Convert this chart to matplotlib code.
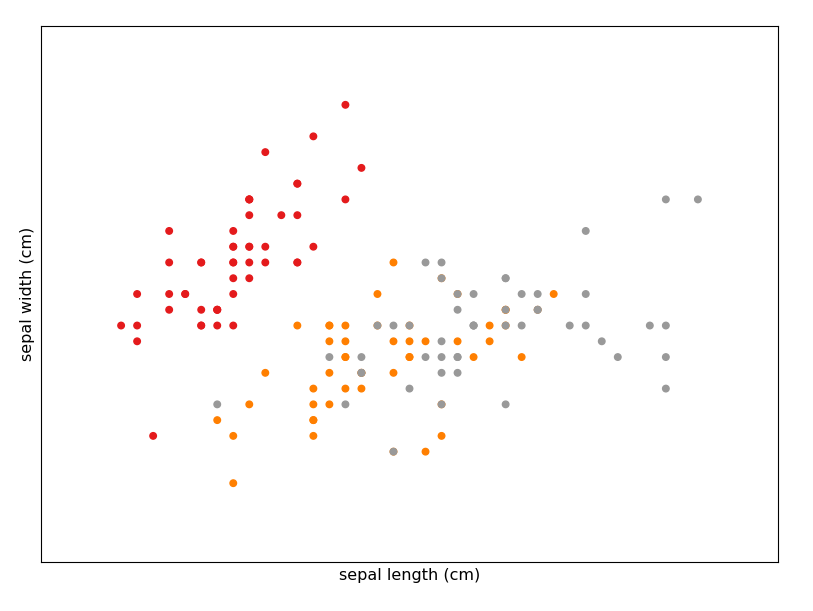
import matplotlib
matplotlib.use("Agg")
import matplotlib.pyplot as plt
import numpy as np

# iris: sepal length / sepal width per class
setosa_len = [5.1,4.9,4.7,4.6,5.0,5.4,4.6,5.0,4.4,4.9,5.4,4.8,4.8,4.3,5.8,5.7,5.4,5.1,5.7,5.1,5.4,5.1,4.6,5.1,4.8,5.0,5.0,5.2,5.2,4.7,4.8,5.4,5.2,5.5,4.9,5.0,5.5,4.9,4.4,5.1,5.0,4.5,4.4,5.0,5.1,4.8,5.1,4.6,5.3,5.0]
setosa_wid = [3.5,3.0,3.2,3.1,3.6,3.9,3.4,3.4,2.9,3.1,3.7,3.4,3.0,3.0,4.0,4.4,3.9,3.5,3.8,3.8,3.4,3.7,3.6,3.3,3.4,3.0,3.4,3.5,3.4,3.2,3.1,3.4,4.1,4.2,3.1,3.2,3.5,3.1,3.0,3.4,3.5,2.3,3.2,3.5,3.8,3.0,3.8,3.2,3.7,3.3]
versi_len = [7.0,6.4,6.9,5.5,6.5,5.7,6.3,4.9,6.6,5.2,5.0,5.9,6.0,6.1,5.6,6.7,5.6,5.8,6.2,5.6,5.9,6.1,6.3,6.1,6.4,6.6,6.8,6.7,6.0,5.7,5.5,5.5,5.8,6.0,5.4,6.0,6.7,6.3,5.6,5.5,5.5,6.1,5.8,5.0,5.6,5.7,5.7,6.2,5.1,5.7]
versi_wid = [3.2,3.2,3.1,2.3,2.8,2.8,3.3,2.4,2.9,2.7,2.0,3.0,2.2,2.9,2.9,3.1,3.0,2.7,2.2,2.5,3.2,2.8,2.5,2.8,2.9,3.0,2.8,3.0,2.9,2.6,2.4,2.4,2.7,2.7,3.0,3.4,3.1,2.3,3.0,2.5,2.6,3.0,2.6,2.3,2.7,3.0,2.9,2.9,2.5,2.8]
virg_len = [6.3,5.8,7.1,6.3,6.5,7.6,4.9,7.3,6.7,7.2,6.5,6.4,6.8,5.7,5.8,6.4,6.5,7.7,7.7,6.0,6.9,5.6,7.7,6.3,6.7,7.2,6.2,6.1,6.4,7.2,7.4,7.9,6.4,6.3,6.1,7.7,6.3,6.4,6.0,6.9,6.7,6.9,5.8,6.8,6.7,6.7,6.3,6.5,6.2,5.9]
virg_wid = [3.3,2.7,3.0,2.9,3.0,3.0,2.5,2.9,2.5,3.6,3.2,2.7,3.0,2.5,2.8,3.2,3.0,3.8,2.6,2.2,3.2,2.8,2.8,2.7,3.3,3.2,2.8,3.0,2.8,3.0,2.8,3.8,2.8,2.8,2.6,3.0,3.4,3.1,3.0,3.1,3.1,3.1,2.7,3.2,3.3,3.0,2.5,3.0,3.4,3.0]

x = np.array(setosa_len + versi_len + virg_len)
y = np.array(setosa_wid + versi_wid + virg_wid)
target = np.array([0]*50 + [1]*50 + [2]*50)

fig = plt.figure(figsize=(8.13, 6.11), dpi=100)
ax = fig.add_axes([41/813, 1 - 562/611, 737/813, 536/611])
ax.scatter(x, y, c=target, cmap=plt.cm.Set1, s=22)
ax.set_xlim(x.min() - 0.5, x.max() + 0.5)
ax.set_ylim(y.min() - 0.5, y.max() + 0.5)
ax.set_xticks(())
ax.set_yticks(())
ax.set_xlabel('sepal length (cm)', fontsize=11.5)
ax.set_ylabel('sepal width (cm)', fontsize=11.5)
fig.savefig('out.png')
